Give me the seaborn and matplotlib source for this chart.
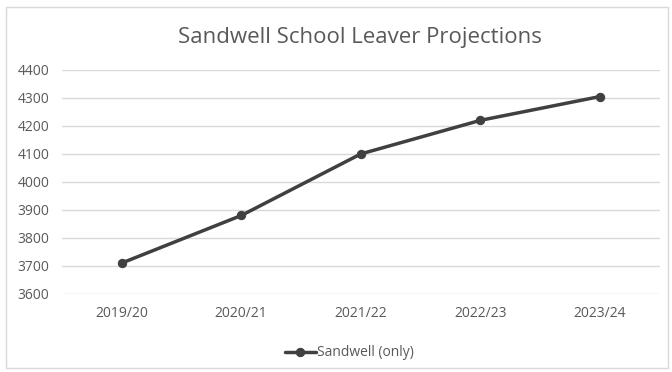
import matplotlib
matplotlib.use("Agg")
import matplotlib.pyplot as plt
import seaborn as sns
import pandas as pd

# Data
years = ['2019/20', '2020/21', '2021/22', '2022/23', '2023/24']
leavers = [3710, 3880, 4100, 4220, 4305]
series_name = 'Sandwell (only)'

df = pd.DataFrame({'Year': years, 'Leavers': leavers})

sns.set_theme(style='white')
plt.rcParams['font.family'] = ['Open Sans', 'DejaVu Sans']

fig = plt.figure(figsize=(6.72, 3.72), dpi=100)
ax = fig.add_axes([0.092, 0.21, 0.89, 0.602])

sns.lineplot(data=df, x='Year', y='Leavers', ax=ax, color='#404040',
             linewidth=2.5, marker='o', markersize=6, markeredgecolor='#404040',
             label=series_name, sort=False)

ax.set_ylim(3600, 4400)
ax.set_xlim(-0.5, len(years) - 0.5)
ax.set_yticks(range(3600, 4401, 100))
ax.yaxis.grid(True, color='#d9d9d9', linewidth=1)
ax.set_axisbelow(True)
for s in ax.spines.values():
    s.set_visible(False)
ax.tick_params(axis='both', length=0, labelsize=10, labelcolor='#595959')
ax.tick_params(axis='x', pad=9)
ax.tick_params(axis='y', pad=9)
ax.set_xlabel('')
ax.set_ylabel('')

fig.text(0.535, 1 - 37 / 372, 'Sandwell School Leaver Projections', ha='center', va='center',
         fontsize=16, color='#595959')

leg = ax.legend(loc='center', bbox_to_anchor=(0.52, 1 - 353 / 372), bbox_transform=fig.transFigure,
                frameon=False, fontsize=10, handlelength=2.2, handletextpad=0.1)
for t in leg.get_texts():
    t.set_color('#595959')

# outer chart border
fig.patches.append(plt.Rectangle((0.009, 0.01), 0.985, 0.972, transform=fig.transFigure,
                                 fill=False, edgecolor='#d9d9d9', linewidth=1))

fig.savefig('out.png', dpi=100)
